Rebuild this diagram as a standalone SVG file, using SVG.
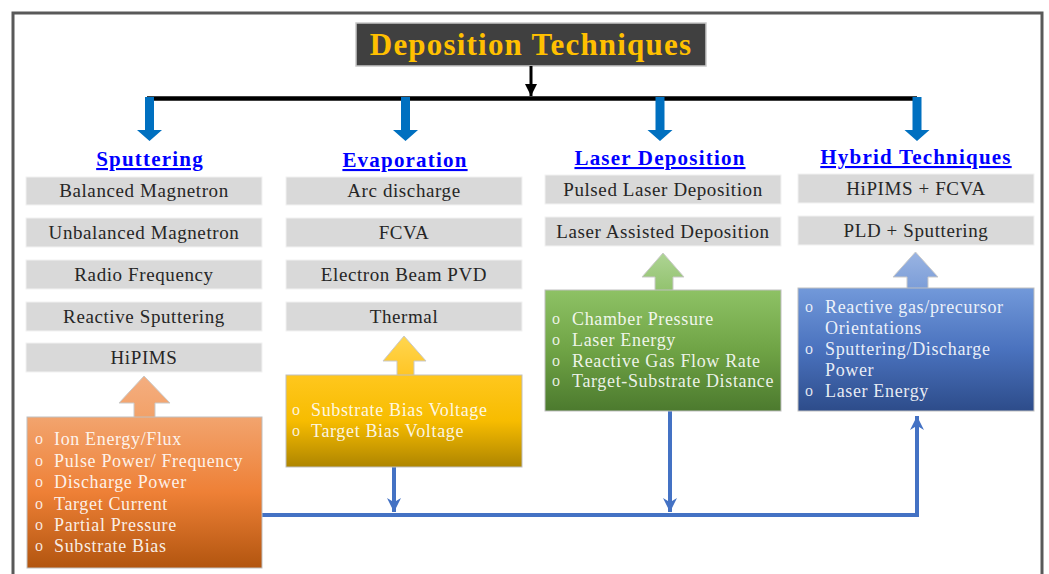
<svg xmlns="http://www.w3.org/2000/svg" width="1049" height="574" viewBox="0 0 1049 574">
<defs>
<style>
.frame{fill:none;stroke:#595959;stroke-width:3}
.gbox{fill:#D9D9D9;stroke:#F2F2F2;stroke-width:1}
.gtxt{font-family:"Liberation Serif",serif;font-size:19px;fill:#262626;text-anchor:middle;letter-spacing:0.6px}
.hdr{font-family:"Liberation Serif",serif;font-size:21px;font-weight:bold;fill:#0000FF;text-anchor:middle;text-decoration:underline;letter-spacing:1.2px}
.ptxt{font-family:"Liberation Serif",serif;font-size:18px;fill:#FFFFFF;fill-opacity:0.9;letter-spacing:0.65px}
.bul{font-family:"Liberation Serif",serif;font-size:16px;fill:#FFFFFF;fill-opacity:0.85;text-anchor:middle}
.pbox{stroke:#BFBFBF;stroke-width:1}
.blk{stroke:#0070C0;stroke-width:9;fill:none}
.conn{stroke:#4472C4;stroke-width:4;fill:none}
</style>
<linearGradient id="gOr" x1="0" y1="0" x2="0" y2="1"><stop offset="0" stop-color="#F2A46E"/><stop offset="0.5" stop-color="#EE8036"/><stop offset="1" stop-color="#B2550F"/></linearGradient>
<linearGradient id="gOrA" x1="0" y1="0" x2="0" y2="1"><stop offset="0" stop-color="#F4AE80"/><stop offset="1" stop-color="#F2A168"/></linearGradient>
<linearGradient id="gYe" x1="0" y1="0" x2="0" y2="1"><stop offset="0" stop-color="#FFC71E"/><stop offset="0.5" stop-color="#F7BC00"/><stop offset="1" stop-color="#AE8500"/></linearGradient>
<linearGradient id="gYeA" x1="0" y1="0" x2="0" y2="1"><stop offset="0" stop-color="#FFD650"/><stop offset="1" stop-color="#FFC524"/></linearGradient>
<linearGradient id="gGr" x1="0" y1="0" x2="0" y2="1"><stop offset="0" stop-color="#8EC265"/><stop offset="0.5" stop-color="#6FA345"/><stop offset="1" stop-color="#4C7A2E"/></linearGradient>
<linearGradient id="gGrA" x1="0" y1="0" x2="0" y2="1"><stop offset="0" stop-color="#AED494"/><stop offset="1" stop-color="#92C26E"/></linearGradient>
<linearGradient id="gBl" x1="0" y1="0" x2="0" y2="1"><stop offset="0" stop-color="#7299DA"/><stop offset="0.5" stop-color="#4A72BE"/><stop offset="1" stop-color="#2D4C8A"/></linearGradient>
<linearGradient id="gBlA" x1="0" y1="0" x2="0" y2="1"><stop offset="0" stop-color="#9AB4E2"/><stop offset="1" stop-color="#7B9DD8"/></linearGradient>
<marker id="mBlack" viewBox="0 0 10 10" refX="10" refY="5" markerWidth="4" markerHeight="4" orient="auto" markerUnits="strokeWidth"><path d="M0,0 L10,5 L0,10 z" fill="#000"/></marker>
<marker id="mBlue" viewBox="0 0 10 10" refX="10" refY="5" markerWidth="3.5" markerHeight="3.5" orient="auto" markerUnits="strokeWidth"><path d="M0,0 L10,5 L0,10 L3,5 z" fill="#4472C4"/></marker>
</defs>
<rect x="0" y="0" width="1049" height="574" fill="#FFFFFF"/>
<rect class="frame" x="13" y="13" width="1029" height="600"/>

<g id="title">
<rect x="356" y="23" width="350" height="43" fill="#404040" stroke="#C8C8C8" stroke-width="1.5"/>
<text x="531" y="55" font-family="Liberation Serif, serif" font-size="31" font-weight="bold" fill="#FFC000" text-anchor="middle" letter-spacing="1.2">Deposition Techniques</text>
</g>

<g id="connectors">
<line x1="531" y1="66" x2="531" y2="96" stroke="#000" stroke-width="3" marker-end="url(#mBlack)"/>
<line x1="147" y1="98.5" x2="917" y2="98.5" stroke="#000" stroke-width="4.5"/>
<g fill="#0070C0">
<path d="M145,97 h9 v33 h8 l-12.5,11 l-12.5,-11 h8 z"/>
<path d="M401,97 h9 v33 h8 l-12.5,11 l-12.5,-11 h8 z"/>
<path d="M655.5,97 h9 v33 h8 l-12.5,11 l-12.5,-11 h8 z"/>
<path d="M912.5,97 h9 v33 h8 l-12.5,11 l-12.5,-11 h8 z"/>
</g>
<polyline class="conn" points="262,515 917,515 917,416" marker-end="url(#mBlue)"/>
<line class="conn" x1="394" y1="467" x2="394" y2="512" marker-end="url(#mBlue)"/>
<line class="conn" x1="670" y1="411" x2="670" y2="512" marker-end="url(#mBlue)"/>
</g>

<g id="sputtering">
<text class="hdr" x="150" y="166">Sputtering</text>
<rect class="gbox" x="26" y="177" width="236" height="28"/>
<text class="gtxt" x="144" y="197">Balanced Magnetron</text>
<rect class="gbox" x="26" y="218" width="236" height="29"/>
<text class="gtxt" x="144" y="239">Unbalanced Magnetron</text>
<rect class="gbox" x="26" y="260" width="236" height="29"/>
<text class="gtxt" x="144" y="281">Radio Frequency</text>
<rect class="gbox" x="26" y="302" width="236" height="29"/>
<text class="gtxt" x="144" y="323">Reactive Sputtering</text>
<rect class="gbox" x="26" y="343" width="236" height="29"/>
<text class="gtxt" x="144" y="364">HiPIMS</text>
</g>

<g id="sputtering-params">
<path d="M144,376 L170,403 L155,403 L155,418 L134,418 L134,403 L119,403 Z" fill="url(#gOrA)" stroke="#C9C9C9" stroke-width="1"/>
<rect class="pbox" x="27" y="417" width="235" height="151" fill="url(#gOr)"/>
<g>
<text class="bul" x="39" y="444">o</text><text class="ptxt" x="54" y="445">Ion Energy/Flux</text>
<text class="bul" x="39" y="466">o</text><text class="ptxt" x="54" y="467">Pulse Power/ Frequency</text>
<text class="bul" x="39" y="487">o</text><text class="ptxt" x="54" y="488">Discharge Power</text>
<text class="bul" x="39" y="509">o</text><text class="ptxt" x="54" y="510">Target Current</text>
<text class="bul" x="39" y="530">o</text><text class="ptxt" x="54" y="531">Partial Pressure</text>
<text class="bul" x="39" y="551">o</text><text class="ptxt" x="54" y="552">Substrate Bias</text>
</g>
</g>

<g id="evaporation">
<text class="hdr" x="405" y="167">Evaporation</text>
<rect class="gbox" x="286" y="177" width="236" height="28"/>
<text class="gtxt" x="404" y="197">Arc discharge</text>
<rect class="gbox" x="286" y="218" width="236" height="29"/>
<text class="gtxt" x="404" y="239">FCVA</text>
<rect class="gbox" x="286" y="260" width="236" height="29"/>
<text class="gtxt" x="404" y="281">Electron Beam PVD</text>
<rect class="gbox" x="286" y="302" width="236" height="29"/>
<text class="gtxt" x="404" y="323">Thermal</text>
</g>

<g id="evaporation-params">
<path d="M404,336 L426,361 L414,361 L414,376 L397,376 L397,361 L383,361 Z" fill="url(#gYeA)" stroke="#C9C9C9" stroke-width="1"/>
<rect class="pbox" x="286" y="375" width="236" height="92" fill="url(#gYe)"/>
<text class="bul" x="296" y="415">o</text><text class="ptxt" x="311" y="416">Substrate Bias Voltage</text>
<text class="bul" x="296" y="436">o</text><text class="ptxt" x="311" y="437">Target Bias Voltage</text>
</g>

<g id="laser">
<text class="hdr" x="660" y="165">Laser Deposition</text>
<rect class="gbox" x="545" y="175" width="236" height="29"/>
<text class="gtxt" x="663" y="196">Pulsed Laser Deposition</text>
<rect class="gbox" x="545" y="217" width="236" height="29"/>
<text class="gtxt" x="663" y="238">Laser Assisted Deposition</text>
</g>

<g id="laser-params">
<path d="M663,253 L684,277 L673,277 L673,291 L655,291 L655,277 L642,277 Z" fill="url(#gGrA)" stroke="#C9C9C9" stroke-width="1"/>
<rect class="pbox" x="545" y="290" width="236" height="121" fill="url(#gGr)"/>
<text class="bul" x="556" y="324">o</text><text class="ptxt" x="572" y="325">Chamber Pressure</text>
<text class="bul" x="556" y="345">o</text><text class="ptxt" x="572" y="346">Laser Energy</text>
<text class="bul" x="556" y="366">o</text><text class="ptxt" x="572" y="367">Reactive Gas Flow Rate</text>
<text class="bul" x="556" y="386">o</text><text class="ptxt" x="572" y="387">Target-Substrate Distance</text>
</g>

<g id="hybrid">
<text class="hdr" x="916" y="164">Hybrid Techniques</text>
<rect class="gbox" x="798" y="174" width="236" height="29"/>
<text class="gtxt" x="916" y="195">HiPIMS + FCVA</text>
<rect class="gbox" x="798" y="216" width="236" height="29"/>
<text class="gtxt" x="916" y="237">PLD + Sputtering</text>
</g>

<g id="hybrid-params">
<path d="M915.5,252 L938,277 L928,277 L928,289 L907,289 L907,277 L893,277 Z" fill="url(#gBlA)" stroke="#C9C9C9" stroke-width="1"/>
<rect class="pbox" x="798" y="288" width="236" height="123" fill="url(#gBl)"/>
<text class="bul" x="809" y="312">o</text><text class="ptxt" x="825" y="313">Reactive gas/precursor</text>
<text class="ptxt" x="825" y="334">Orientations</text>
<text class="bul" x="809" y="354">o</text><text class="ptxt" x="825" y="355">Sputtering/Discharge</text>
<text class="ptxt" x="825" y="376">Power</text>
<text class="bul" x="809" y="396">o</text><text class="ptxt" x="825" y="397">Laser Energy</text>
</g>
</svg>
